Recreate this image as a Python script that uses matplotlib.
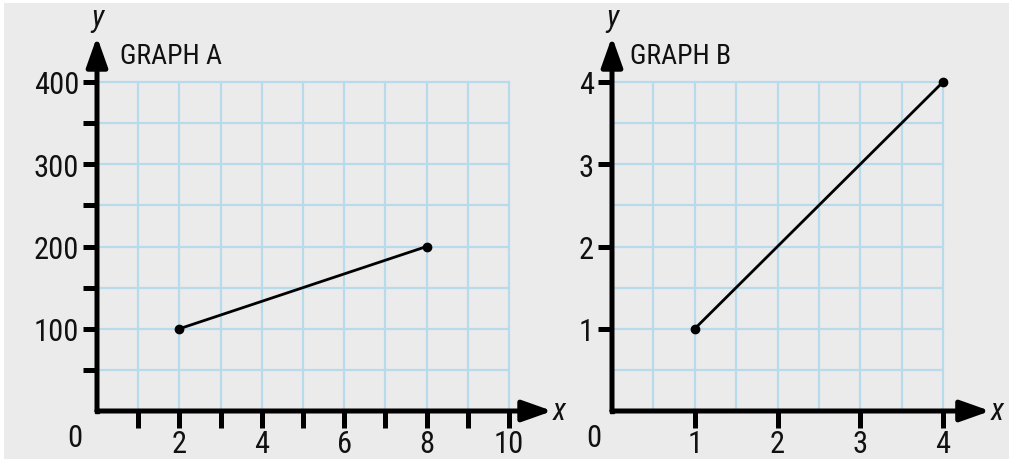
import numpy as np
import matplotlib
matplotlib.use('Agg')
import matplotlib.pyplot as plt
from matplotlib.patches import Rectangle
from matplotlib.ticker import MultipleLocator, FixedLocator, FuncFormatter
import warnings

warnings.filterwarnings('ignore')
plt.rcParams['font.family'] = ['Roboto Condensed', 'PT Sans Narrow', 'DejaVu Sans']

# 数据
a_x = [2, 8]
a_y = [100, 200]
b_x = [1, 4]
b_y = [1, 4]

a_xticks = list(range(1, 11))
a_xlabels = [2, 4, 6, 8, 10]
a_yticks = list(range(50, 401, 50))
a_ylabels = [100, 200, 300, 400]
b_xticks = [1, 2, 3, 4]
b_yticks = [1, 2, 3, 4]

W, H = 1009, 460
BG = '#ebebeb'
GRID = '#b8dbec'
INK = '#111111'

fig = plt.figure(figsize=(W / 100, H / 100), dpi=100, facecolor='white')
fig.patches.append(Rectangle((4 / W, 0), 1, (H - 4) / H, transform=fig.transFigure,
                             facecolor=BG, edgecolor='none', zorder=-10))


def px_axes(left, right, top, bottom):
    return fig.add_axes([left / W, (H - bottom) / H, (right - left) / W, (bottom - top) / H])


def setup(ax, xmax, ymax, xticks, yticks, xlab, ylab, xgrid_step, ygrid_step,
          title, x_tip, y_tip):
    ax.set_facecolor('none')
    ax.set_xlim(0, xmax)
    ax.set_ylim(0, ymax)
    for s in ['top', 'right', 'left', 'bottom']:
        ax.spines[s].set_visible(False)

    # 网格
    ax.xaxis.set_minor_locator(MultipleLocator(xgrid_step))
    ax.yaxis.set_minor_locator(MultipleLocator(ygrid_step))
    ax.grid(True, which='both', color=GRID, linewidth=1.6, zorder=0)
    ax.set_axisbelow(True)
    for gl in ax.get_xgridlines() + ax.get_ygridlines():
        gl.set_clip_on(False)

    ax.xaxis.set_major_locator(FixedLocator(xticks))
    ax.yaxis.set_major_locator(FixedLocator(yticks))
    ax.xaxis.set_major_formatter(FuncFormatter(lambda v, p: f'{v:g}' if v in xlab else ''))
    ax.yaxis.set_major_formatter(FuncFormatter(lambda v, p: f'{v:g}' if v in ylab else ''))
    ax.tick_params(which='major', direction='out', width=3.6, color='black',
                   labelsize=22, labelcolor=INK)
    ax.tick_params(axis='x', which='major', length=12, pad=1)
    ax.tick_params(axis='y', which='major', length=10, pad=3)
    ax.tick_params(which='minor', length=0)

    # 坐标轴箭头
    style = '-|>,head_length=0.9,head_width=0.32'
    for tip in [(x_tip, 0), (0, y_tip)]:
        ax.annotate('', xy=tip, xytext=(0, 0), annotation_clip=False,
                    arrowprops=dict(arrowstyle=style, lw=3.6, color='black',
                                    shrinkA=0, shrinkB=0, mutation_scale=20))
    ax.plot([0], [0], marker='s', color='black', markersize=2.5, clip_on=False)

    ax.text(x_tip + xmax * 0.002, 0, 'x', style='italic', fontsize=22,
            ha='left', va='center', color=INK, clip_on=False)
    ax.text(0, y_tip + ymax * 0.015, 'y', style='italic', fontsize=22,
            ha='center', va='bottom', color=INK, clip_on=False)
    ax.text(-0.055, -0.08, '0', transform=ax.transAxes, fontsize=22,
            ha='center', va='center', color=INK)
    ax.text(0.055, 1.08, title, transform=ax.transAxes, fontsize=20,
            ha='left', va='center', color=INK)


axA = px_axes(97, 509, 83, 412)
setup(axA, 10, 400, a_xticks, a_yticks, a_xlabels, a_ylabels, 1, 50,
      'GRAPH A', 11.05, 455)
axA.plot(a_x, a_y, color='black', lw=2, marker='o', markersize=6, zorder=5, clip_on=False)

axB = px_axes(612, 943, 83, 412)
setup(axB, 4, 4, b_xticks, b_yticks, b_xticks, b_yticks, 0.5, 0.5,
      'GRAPH B', 4.57, 4.55)
axB.plot(b_x, b_y, color='black', lw=2, marker='o', markersize=6, zorder=5, clip_on=False)

fig.savefig('out.png', dpi=100, facecolor=fig.get_facecolor())
